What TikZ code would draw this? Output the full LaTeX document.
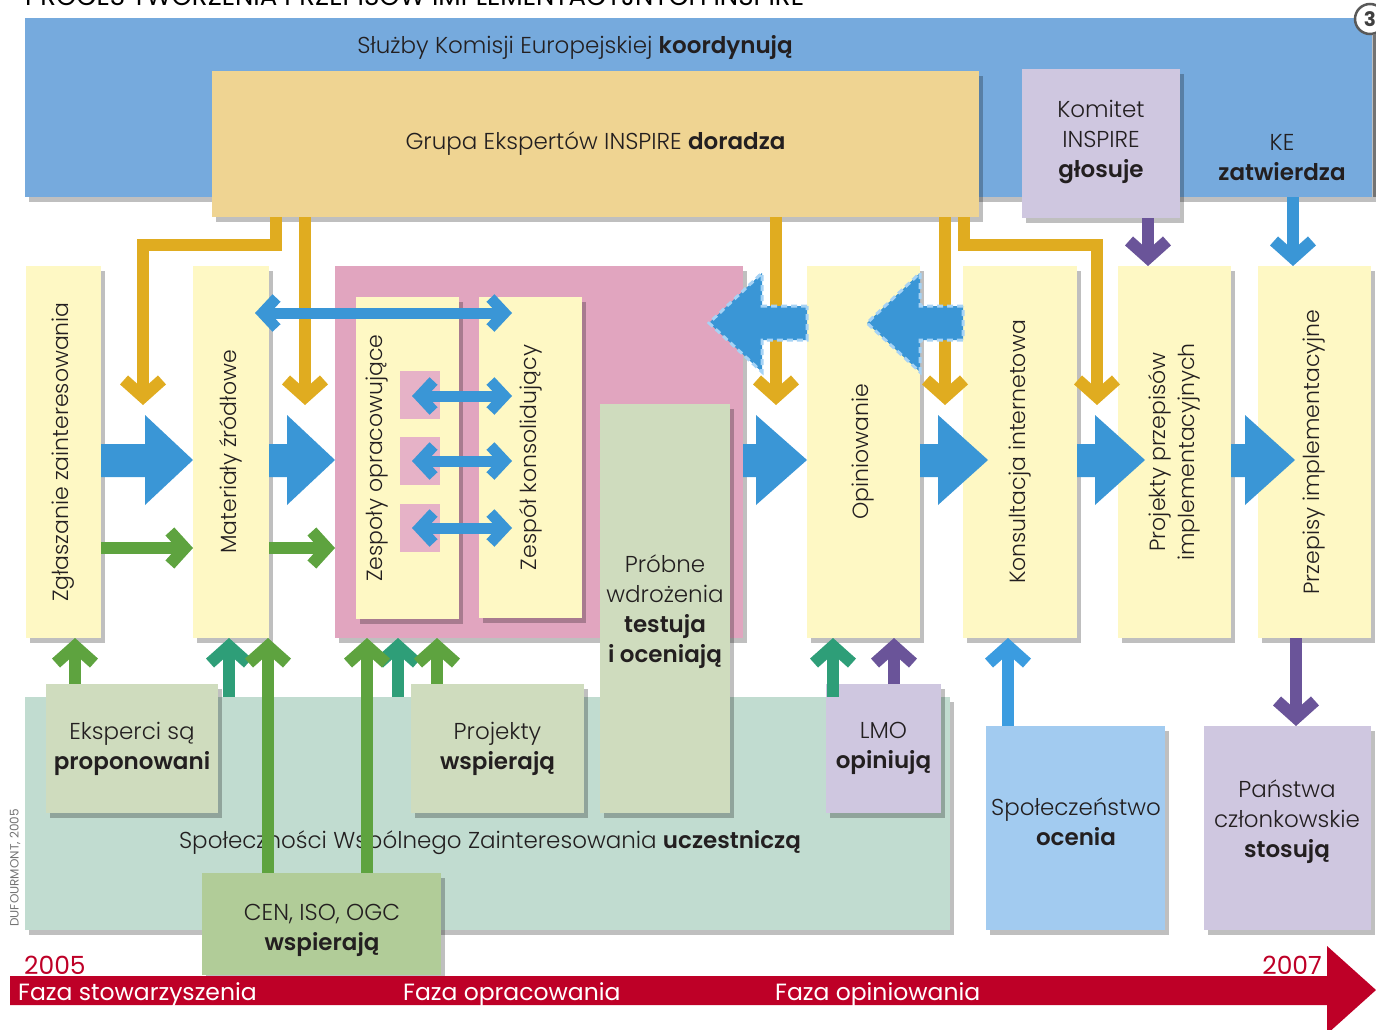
\documentclass[tikz,border=0pt]{standalone}
\usepackage{fontspec}
\setmainfont{Poppins}[UprightFont=* Light, BoldFont=* SemiBold]
\newfontfamily\regfont{Poppins}
\usetikzlibrary{arrows.meta,shadows,fit}
\definecolor{bandblue}{HTML}{76AADD}
\definecolor{goldbox}{HTML}{EFD492}
\definecolor{lav}{HTML}{CFC7E0}
\definecolor{yel}{HTML}{FEF8C4}
\definecolor{pinkc}{HTML}{E1A5BF}
\definecolor{pinksq}{HTML}{E6B2C7}
\definecolor{sage}{HTML}{CFDCBE}
\definecolor{tealband}{HTML}{C1DCD0}
\definecolor{cengreen}{HTML}{B1CC98}
\definecolor{skybox}{HTML}{A2CBF0}
\definecolor{goldc}{HTML}{E0AC20}
\definecolor{bluec}{HTML}{3A96D6}
\definecolor{bluedash}{HTML}{A6D3F5}
\definecolor{greenc}{HTML}{5EA33F}
\definecolor{tealc}{HTML}{2E9E78}
\definecolor{purplec}{HTML}{6A5499}
\definecolor{skyc}{HTML}{3B9CE0}
\definecolor{redc}{HTML}{BE0027}
\definecolor{txt}{HTML}{231F20}
\tikzset{
  box/.style={inner sep=0pt, outer sep=0pt, drop shadow={shadow xshift=4pt, shadow yshift=-5pt, fill=black, opacity=0.25}},
  lbl/.style={text=txt, font=\fontsize{23}{30}\selectfont, align=center, inner sep=0pt},
  vtext/.style={text=txt, font=\fontsize{22}{30}\selectfont, align=center, rotate=90, inner sep=0pt},
  goldarr/.style={draw=goldc, line width=12pt, line join=miter, -{Straight Barb[length=17pt,width=38pt]}},
  uparr/.style={line width=12pt, -{Straight Barb[length=17pt,width=38pt]}},
  harr/.style={draw=greenc, line width=12pt, -{Straight Barb[length=15pt,width=33pt]}},
  dblarr/.style={draw=bluec, line width=11pt, {Straight Barb[length=14pt,width=30pt]}-{Straight Barb[length=14pt,width=30pt]}},
  bigarr/.style={fill=bluec},
  dasharr/.style={fill=bluec, draw=bluedash, line width=3pt, dash pattern=on 6pt off 4pt},
  faza/.style={anchor=base west, text=white, font=\regfont\fontsize{23.5}{24}\selectfont, inner sep=0pt},
  year/.style={text=redc, font=\regfont\fontsize{25}{25}\selectfont, inner sep=0pt}
}
\begin{document}
\begin{tikzpicture}[x=1pt,y=-1pt]
\useasboundingbox (0,0) rectangle (1376,1030);
\clip (0,0) rectangle (1376,1030);
% title (cut off at the top edge, as in the source)
\node[anchor=base west, text=black, font=\regfont\fontsize{26}{26}\selectfont, inner sep=0pt] (title) at (25,6) {PROCES TWORZENIA PRZEPISÓW IMPLEMENTACYJNYCH INSPIRE};
% top band
\node[box, fill=bandblue, fit={(25,18)(1372,197)}] (ec) {};
\node[lbl] (ectext) at (575,48) {Służby Komisji Europejskiej \textbf{koordynują}};
\node[box, fill=goldbox, fit={(212,71)(979,217)}] (grupa) {};
\node[lbl] at (grupa.center) {Grupa Ekspertów INSPIRE \textbf{doradza}};
\node[box, fill=lav, fit={(1022,69)(1180,218)}] (kom) {};
\node[lbl] at (1101,142) {Komitet\\INSPIRE\\\textbf{głosuje}};
\node[lbl] (ke) at (1282,158) {KE\\\textbf{zatwierdza}};
% circle 3
\draw[black!65, line width=2.5pt, fill=white] (1370,19) circle (15);
\node[text=black!75, font=\regfont\fontsize{20}{20}\selectfont\bfseries] at (1370,19) {3};
\draw[black!55, line width=3pt] (1374.5,34) -- (1374.5,197);
% columns
\node[box, fill=yel, fit={(26,266)(101,638)}] (zg) {};
\node[vtext] at (zg.center) {Zgłaszanie zainteresowania};
\node[box, fill=yel, fit={(193,266)(269,638)}] (mat) {};
\node[vtext] at (mat.center) {Materiały źródłowe};
\node[box, fill=pinkc, fit={(335,266)(743,638)}] (pink) {};
\node[box, fill=yel, fit={(356,297)(459,619)}] (zop) {};
\node[box, fill=yel, fit={(479,297)(582,618)}] (zkons) {};
\fill[pinksq] (400,371) rectangle (440,419);
\fill[pinksq] (400,437) rectangle (440,485);
\fill[pinksq] (400,504) rectangle (440,552);
\node[vtext] at (377,458) {Zespoły opracowujące};
\node[vtext] at (zkons.center) {Zespół konsolidujący};
\node[box, fill=yel, fit={(807,266)(920,638)}] (op) {};
\node[vtext] at (op.center) {Opiniowanie};
\node[box, fill=yel, fit={(963,266)(1077,638)}] (kons) {};
\node[vtext] at (kons.center) {Konsultacja internetowa};
\node[box, fill=yel, fit={(1118,266)(1231,638)}] (pp) {};
\node[vtext, font=\fontsize{22}{29}\selectfont] at (pp.center) {Projekty przepisów\\implementacyjnych};
\node[box, fill=yel, fit={(1258,266)(1371,638)}] (prz) {};
\node[vtext] at (prz.center) {Przepisy implementacyjne};
% bottom
\node[box, fill=tealband, fit={(25,697)(950,930)}] (band) {};
\node[lbl] at (490,843) {Społeczności Wspólnego Zainteresowania \textbf{uczestniczą}};
\node[box, fill=sage, fit={(46,684)(218,813)}] (ek) {};
\node[lbl] at (ek.center) {Eksperci są\\\textbf{proponowani}};
\node[box, fill=sage, fit={(411,684)(584,813)}] (pw) {};
\node[lbl] at (pw.center) {Projekty\\\textbf{wspierają}};
\node[box, fill=sage, fit={(600,404)(730,813)}] (prob) {};
\node[lbl] at (665,612) {Próbne\\wdrożenia\\\textbf{testuja}\\\textbf{i oceniają}};
\node[box, fill=lav, fit={(826,684)(941,813)}] (lmo) {};
\node[lbl] at (lmo.center) {LMO\\\textbf{opiniują}};
\node[box, fill=skybox, fit={(986,726)(1165,930)}] (spol) {};
\node[lbl] at (1076,822) {Społeczeństwo\\\textbf{ocenia}};
\node[box, fill=lav, fit={(1204,726)(1371,930)}] (pan) {};
\node[lbl] at (1287,822) {Państwa\\członkowskie\\\textbf{stosują}};
\node[box, fill=cengreen, fit={(202,873)(441,975)}] (cen) {};
\node[lbl] at (322,930) {CEN, ISO, OGC\\\textbf{wspierają}};
\node[rotate=90, text=black!55, font=\regfont\fontsize{12}{12}\selectfont, inner sep=0pt] (credit) at (15,868) {DUFOURMONT, 2005};
% big blue arrows
\fill[bigarr] (zg.east |- 0,444) -- (145,444) -- (145,415) -- (mat.west |- 0,460) -- (145,505) -- (145,477) -- (zg.east |- 0,477) -- cycle;
\fill[bigarr] (mat.east |- 0,444) -- (287,444) -- (287,415) -- (pink.west |- 0,460) -- (287,505) -- (287,477) -- (mat.east |- 0,477) -- cycle;
\fill[bigarr] (pink.east |- 0,444) -- (756,444) -- (756,415) -- (op.west |- 0,460) -- (756,505) -- (756,477) -- (pink.east |- 0,477) -- cycle;
\fill[bigarr] (op.east |- 0,444) -- (938,444) -- (938,415) -- (988,460) -- (938,505) -- (938,477) -- (op.east |- 0,477) -- cycle;
\fill[bigarr] (kons.east |- 0,444) -- (1095,444) -- (1095,415) -- (1145,460) -- (1095,505) -- (1095,477) -- (kons.east |- 0,477) -- cycle;
\fill[bigarr] (pp.east |- 0,444) -- (1245,444) -- (1245,415) -- (1295,460) -- (1245,505) -- (1245,477) -- (pp.east |- 0,477) -- cycle;
% green horizontal
\draw[harr] (zg.east |- 0,548) -- (mat.west |- 0,548);
\draw[harr] (mat.east |- 0,548) -- (pink.west |- 0,548);
% gold arrows
\coordinate (g1) at (143,405);
\coordinate (g2) at (305,405);
\coordinate (g3) at (776,405);
\coordinate (g4) at (945,405);
\coordinate (g5) at (1097,405);
\draw[goldarr] (276,0 |- grupa.south) -- (276,245) -- (143,245) -- (g1);
\draw[goldarr] (305,0 |- grupa.south) -- (g2);
\draw[goldarr] (776,0 |- grupa.south) -- (g3);
\draw[goldarr] (945,0 |- grupa.south) -- (g4);
\draw[goldarr] (964,0 |- grupa.south) -- (964,245) -- (1097,245) -- (g5);
% dashed left arrows
\draw[dasharr] (op.west |- 0,306) -- (762,306) -- (762,273) -- (709,323) -- (762,372) -- (762,340) -- (op.west |- 0,340) -- cycle;
\draw[dasharr] (kons.west |- 0,306) -- (920,306) -- (920,273) -- (867,323) -- (920,372) -- (920,340) -- (kons.west |- 0,340) -- cycle;
% blue double arrows
\coordinate (d0l) at (255,313); \coordinate (d0r) at (512,313);
\coordinate (d1l) at (412,396); \coordinate (d1r) at (512,396);
\coordinate (d2l) at (412,461); \coordinate (d2r) at (512,461);
\coordinate (d3l) at (412,528); \coordinate (d3r) at (512,528);
\draw[dblarr] (d0l) -- (d0r);
\draw[dblarr] (d1l) -- (d1r);
\draw[dblarr] (d2l) -- (d2r);
\draw[dblarr] (d3l) -- (d3r);
% vertical arrows
\draw[uparr, draw=greenc] (75,0 |- ek.north) -- (75,0 |- zg.south);
\draw[uparr, draw=tealc] (229,0 |- band.north) -- (229,0 |- mat.south);
\draw[uparr, draw=greenc] (268,0 |- cen.north) -- (268,0 |- mat.south);
\draw[uparr, draw=tealc] (398,0 |- band.north) -- (398,0 |- pink.south);
\draw[uparr, draw=greenc] (367,0 |- cen.north) -- (367,0 |- pink.south);
\draw[uparr, draw=greenc] (437,0 |- pw.north) -- (437,0 |- pink.south);
\draw[uparr, draw=tealc] (833,0 |- band.north) -- (833,0 |- op.south);
\draw[uparr, draw=purplec] (894,0 |- lmo.north) -- (894,0 |- op.south);
\draw[uparr, draw=skyc] (1008,0 |- spol.north) -- (1008,0 |- kons.south);
\draw[uparr, draw=purplec] (1296,0 |- prz.south) -- (1296,0 |- pan.north);
\draw[uparr, draw=purplec] (1148,0 |- kom.south) -- (1148,0 |- pp.north);
\draw[uparr, draw=bluec] (1293,0 |- ec.south) -- (1293,0 |- prz.north);
% timeline
\fill[redc] (10,976) -- (1327,976) -- (1327,946) -- (1376,990) -- (1327,1034) -- (1327,1005) -- (10,1005) -- cycle;
\node[year, anchor=base west] (y1) at (24,974) {2005};
\node[year, anchor=base east] (y2) at (1322,974) {2007};
\node[faza] (f1) at (18,1000) {Faza stowarzyszenia};
\node[faza] (f2) at (403,1000) {Faza opracowania};
\node[faza] (f3) at (775,1000) {Faza opiniowania};
\end{tikzpicture}
\end{document}
